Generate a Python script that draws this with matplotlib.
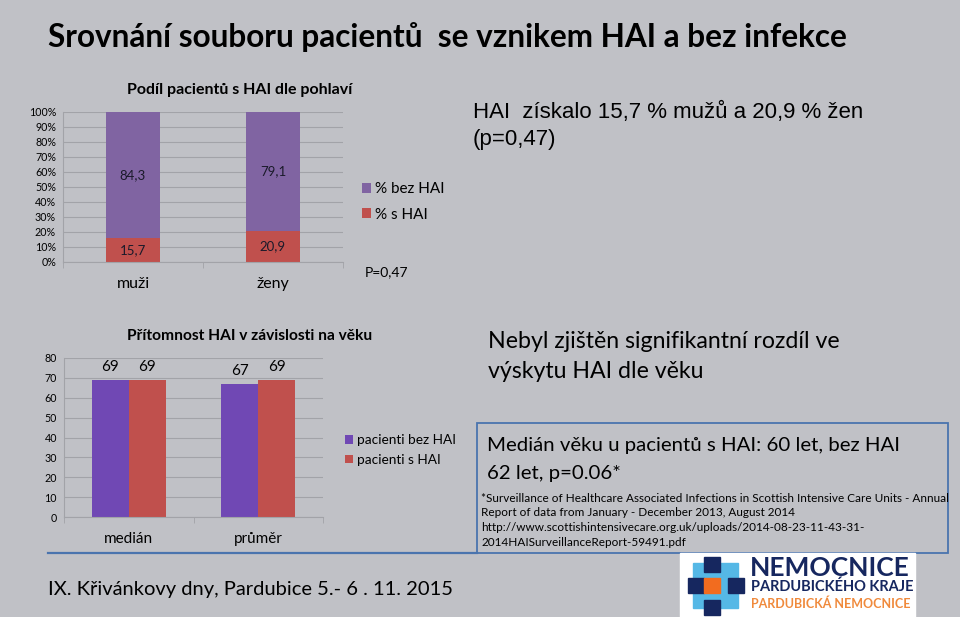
import numpy as np
import matplotlib.pyplot as plt
from matplotlib.patches import Rectangle

W, H = 960, 617
BG = '#c0c1c6'
GRID = '#a2a3a8'
PURPLE = '#8064a2'
VIOLET = '#7048b4'
RED = '#c0504d'
BLUE = '#4a74ae'
SANS = ['Lato', 'DejaVu Sans']

# horni graf - podil pacientu s HAI dle pohlavi
pohlavi = ['muži', 'ženy']
s_hai = [15.7, 20.9]
bez_hai = [84.3, 79.1]
pct_ticks = [0, 10, 20, 30, 40, 50, 60, 70, 80, 90, 100]

# dolni graf - vek
vek_kat = ['medián', 'průměr']
vek_bez = [69, 67]
vek_s = [69, 69]
vek_ticks = [0, 10, 20, 30, 40, 50, 60, 70, 80]

footnote = ['*Surveillance of Healthcare Associated Infections in Scottish Intensive Care Units - Annual',
            'Report of data from January - December 2013, August 2014',
            'http://www.scottishintensivecare.org.uk/uploads/2014-08-23-11-43-31-',
            '2014HAISurveillanceReport-59491.pdf']

plt.rcParams['font.family'] = SANS


def rect(x0, y0, x1, y1):
    return [x0 / W, 1 - y1 / H, (x1 - x0) / W, (y1 - y0) / H]


def style(ax, ticks, labels, ymax):
    ax.set_facecolor('none')
    for s in ['top', 'right']:
        ax.spines[s].set_visible(False)
    ax.spines['left'].set_color(GRID)
    ax.spines['bottom'].set_color(GRID)
    ax.set_ylim(0, ymax)
    ax.set_xlim(-0.5, 1.5)
    ax.set_yticks(ticks)
    ax.set_yticklabels(labels, fontsize=7.7)
    ax.tick_params(axis='y', length=0, pad=5)
    ax.yaxis.grid(True, color=GRID, lw=0.8)
    ax.set_axisbelow(True)
    ax.set_xticks([-0.5, 0.5, 1.5], minor=True)
    ax.tick_params(axis='x', which='minor', length=4, color=GRID)
    ax.tick_params(axis='x', which='major', length=0, pad=11, labelsize=11.5)


fig = plt.figure(figsize=(9.6, 6.17), dpi=100, facecolor=BG)
bg = fig.add_axes([0, 0, 1, 1])
bg.set_xlim(0, W)
bg.set_ylim(H, 0)
bg.axis('off')

bg.text(48, 37, 'Srovnání souboru pacientů  se vznikem HAI a bez infekce',
        fontsize=22.7, fontweight='bold', va='center', ha='left')

# horni graf
ax1 = fig.add_axes(rect(63, 112, 343, 262))
x = np.arange(len(pohlavi))
b1 = ax1.bar(x, s_hai, 0.39, color=RED)
b2 = ax1.bar(x, bez_hai, 0.39, bottom=s_hai, color=PURPLE)
style(ax1, pct_ticks, ['%d%%' % t for t in pct_ticks], 100)
ax1.set_xticks(x)
ax1.set_xticklabels(pohlavi)
for i in range(len(x)):
    ax1.text(x[i], s_hai[i] / 2, ('%.1f' % s_hai[i]).replace('.', ','),
             ha='center', va='center', fontsize=9.5, color='#1a1a2a')
    ax1.text(x[i], s_hai[i] + bez_hai[i] / 2, ('%.1f' % bez_hai[i]).replace('.', ','),
             ha='center', va='center', fontsize=9.5, color='#1a1a2a')
bg.text(240, 90, 'Podíl pacientů s HAI dle pohlaví', fontsize=11.5, fontweight='bold',
        ha='center', va='center')
ax1.legend([b2, b1], ['% bez HAI', '% s HAI'], loc='center left',
           bbox_to_anchor=(354 / W, 1 - 202 / H), bbox_transform=fig.transFigure,
           frameon=False, fontsize=11, handlelength=0.6, handleheight=0.6,
           handletextpad=0.3, labelspacing=0.75, borderpad=0)
bg.text(365, 272, 'P=0,47', fontsize=10, va='center', ha='left')

bg.text(473, 112, 'HAI  získalo 15,7 % mužů a 20,9 % žen', fontsize=16,
        va='center', ha='left', family=['Liberation Sans', 'DejaVu Sans'])
bg.text(473, 140, '(p=0,47)', fontsize=16, va='center', ha='left',
        family=['Liberation Sans', 'DejaVu Sans'])

# dolni graf
ax2 = fig.add_axes(rect(64, 358, 323, 517))
x = np.arange(len(vek_kat))
w = 0.286
c1 = ax2.bar(x - w / 2, vek_bez, w, color=VIOLET)
c2 = ax2.bar(x + w / 2, vek_s, w, color=RED)
style(ax2, vek_ticks, [str(t) for t in vek_ticks], 80)
ax2.set_xticks(x)
ax2.set_xticklabels(vek_kat, fontsize=11)
for i in range(len(x)):
    ax2.text(x[i] - w / 2, vek_bez[i] + 3, str(vek_bez[i]), ha='center', va='bottom', fontsize=11)
    ax2.text(x[i] + w / 2, vek_s[i] + 3, str(vek_s[i]), ha='center', va='bottom', fontsize=11)
bg.text(250, 336, 'Přítomnost HAI v závislosti na věku', fontsize=11.2, fontweight='bold',
        ha='center', va='center')
ax2.legend([c1, c2], ['pacienti bez HAI', 'pacienti s HAI'], loc='center left',
           bbox_to_anchor=(338 / W, 1 - 450 / H), bbox_transform=fig.transFigure,
           frameon=False, fontsize=9.8, handlelength=0.6, handleheight=0.6,
           handletextpad=0.3, labelspacing=0.55, borderpad=0)

bg.text(488, 342, 'Nebyl zjištěn signifikantní rozdíl ve', fontsize=16.7, va='center', ha='left')
bg.text(488, 372, 'výskytu HAI dle věku', fontsize=16.7, va='center', ha='left')

# ramecek
bg.plot([48, 477], [553, 553], color=BLUE, lw=1.6)
bg.add_patch(Rectangle((477, 423), 471, 130, fill=False, ec=BLUE, lw=1.3))
bg.text(487, 445, 'Medián věku u pacientů s HAI: 60 let, bez HAI', fontsize=14.7,
        va='center', ha='left')
bg.text(487, 473, '62 let, p=0.06*', fontsize=14.7, va='center', ha='left')
for i, line in enumerate(footnote):
    bg.text(481, 498 + i * 14.7, line, fontsize=8.45, va='center', ha='left')

bg.text(48, 590, 'IX. Křivánkovy dny, Pardubice 5.- 6 . 11. 2015', fontsize=14.5,
        va='center', ha='left')

# logo
bg.add_patch(Rectangle((680, 553), 235, 64, color='white'))
bg.add_patch(Rectangle((693, 563), 45, 45, color='#55b8e6'))
for sx, sy in [(704, 557), (688, 578), (728, 578), (704, 600)]:
    bg.add_patch(Rectangle((sx, sy), 16, 15, color='#16275f'))
bg.add_patch(Rectangle((704, 578), 16, 15, color='#f26c1f'))
bg.text(750, 568, 'NEMOCNICE', fontsize=19, fontweight='bold', color='#16275f',
        va='center', ha='left')
bg.text(751, 587, 'PARDUBICKÉHO KRAJE', fontsize=10.5, fontweight='bold', color='#16275f',
        va='center', ha='left')
bg.text(751, 604, 'PARDUBICKÁ NEMOCNICE', fontsize=9, fontweight='bold', color='#f08a3c',
        va='center', ha='left')

fig.savefig('out.png', dpi=100, facecolor=BG)
